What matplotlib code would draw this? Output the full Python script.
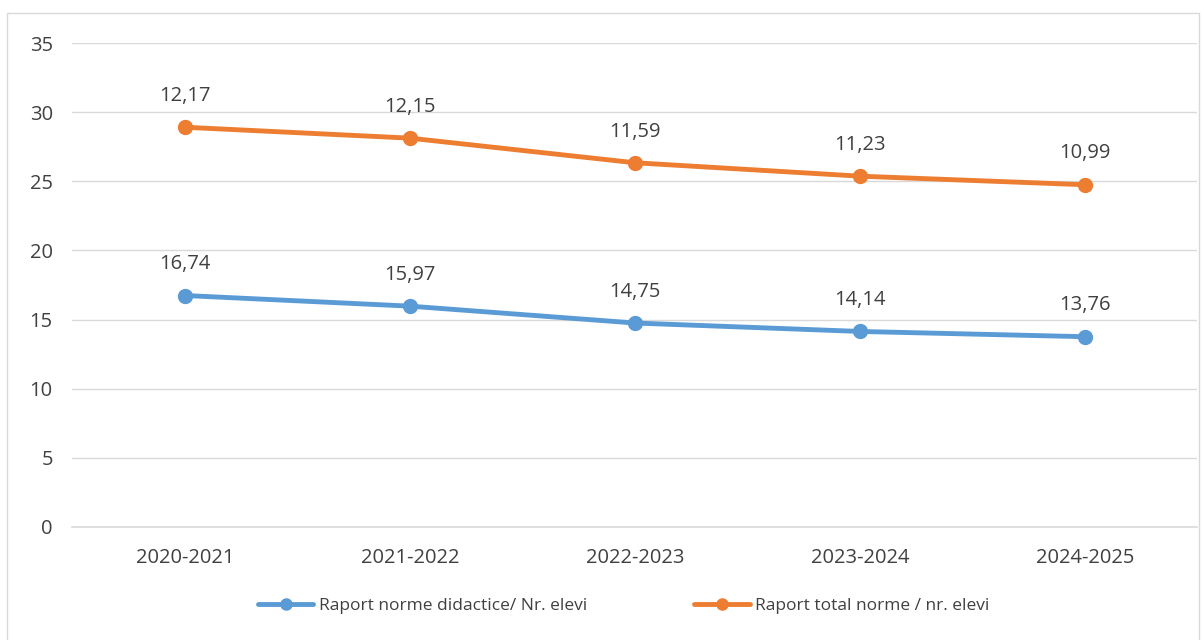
import matplotlib.pyplot as plt
import numpy as np
from matplotlib.patches import Rectangle

categories = ["2020-2021", "2021-2022", "2022-2023", "2023-2024", "2024-2025"]
didactice = [16.74, 15.97, 14.75, 14.14, 13.76]
total = [12.17, 12.15, 11.59, 11.23, 10.99]
yticks = [0, 5, 10, 15, 20, 25, 30, 35]

plt.rcParams['font.family'] = ['Open Sans', 'DejaVu Sans']
txt = '#404040'

fig = plt.figure(figsize=(12.04, 6.4), dpi=100)
ax = fig.add_axes([0.060, 0.1766, 0.9346, 0.7562])

x = np.arange(len(categories))
# the orange series is stacked on top of the blue one (Excel stacked line)
stacked = np.array(didactice) + np.array(total)

ax.plot(x, didactice, color='#5B9BD5', lw=3.5, marker='o', ms=10,
        label='Raport norme didactice/ Nr. elevi', solid_capstyle='round')
ax.plot(x, stacked, color='#ED7D31', lw=3.5, marker='o', ms=10,
        label='Raport total norme / nr. elevi', solid_capstyle='round')

for xi, yi, v in zip(x, didactice, didactice):
    ax.annotate(f"{v:.2f}".replace('.', ','), (xi, yi), xytext=(0, 22.5),
                textcoords='offset points', ha='center', va='center',
                fontsize=14.5, color=txt)
for xi, yi, v in zip(x, stacked, total):
    ax.annotate(f"{v:.2f}".replace('.', ','), (xi, yi), xytext=(0, 22.5),
                textcoords='offset points', ha='center', va='center',
                fontsize=14.5, color=txt)

ax.set_xlim(-0.5, len(categories) - 0.5)
ax.set_ylim(0, 35)
ax.set_yticks(yticks)
ax.set_xticks(x)
ax.set_xticklabels(categories)
ax.tick_params(axis='both', length=0, labelsize=14.5, labelcolor=txt)
ax.tick_params(axis='x', pad=15)
ax.tick_params(axis='y', pad=14)
ax.grid(axis='y', color='#D9D9D9', lw=1)
ax.set_axisbelow(True)
for s in ax.spines.values():
    s.set_visible(False)
ax.axhline(0, color='#D9D9D9', lw=1.2, clip_on=False)

leg = fig.legend(loc='center', bbox_to_anchor=(0.518, 0.053), ncol=2, frameon=False,
                 fontsize=12.5, handlelength=3.2, columnspacing=6.2, labelcolor=txt,
                 handletextpad=0.3, markerscale=0.8)

fig.patches.append(Rectangle((0.006, -0.01), 0.99, 0.99, transform=fig.transFigure,
                             fill=False, edgecolor='#D9D9D9', lw=1))

fig.savefig('out.png', dpi=100)
